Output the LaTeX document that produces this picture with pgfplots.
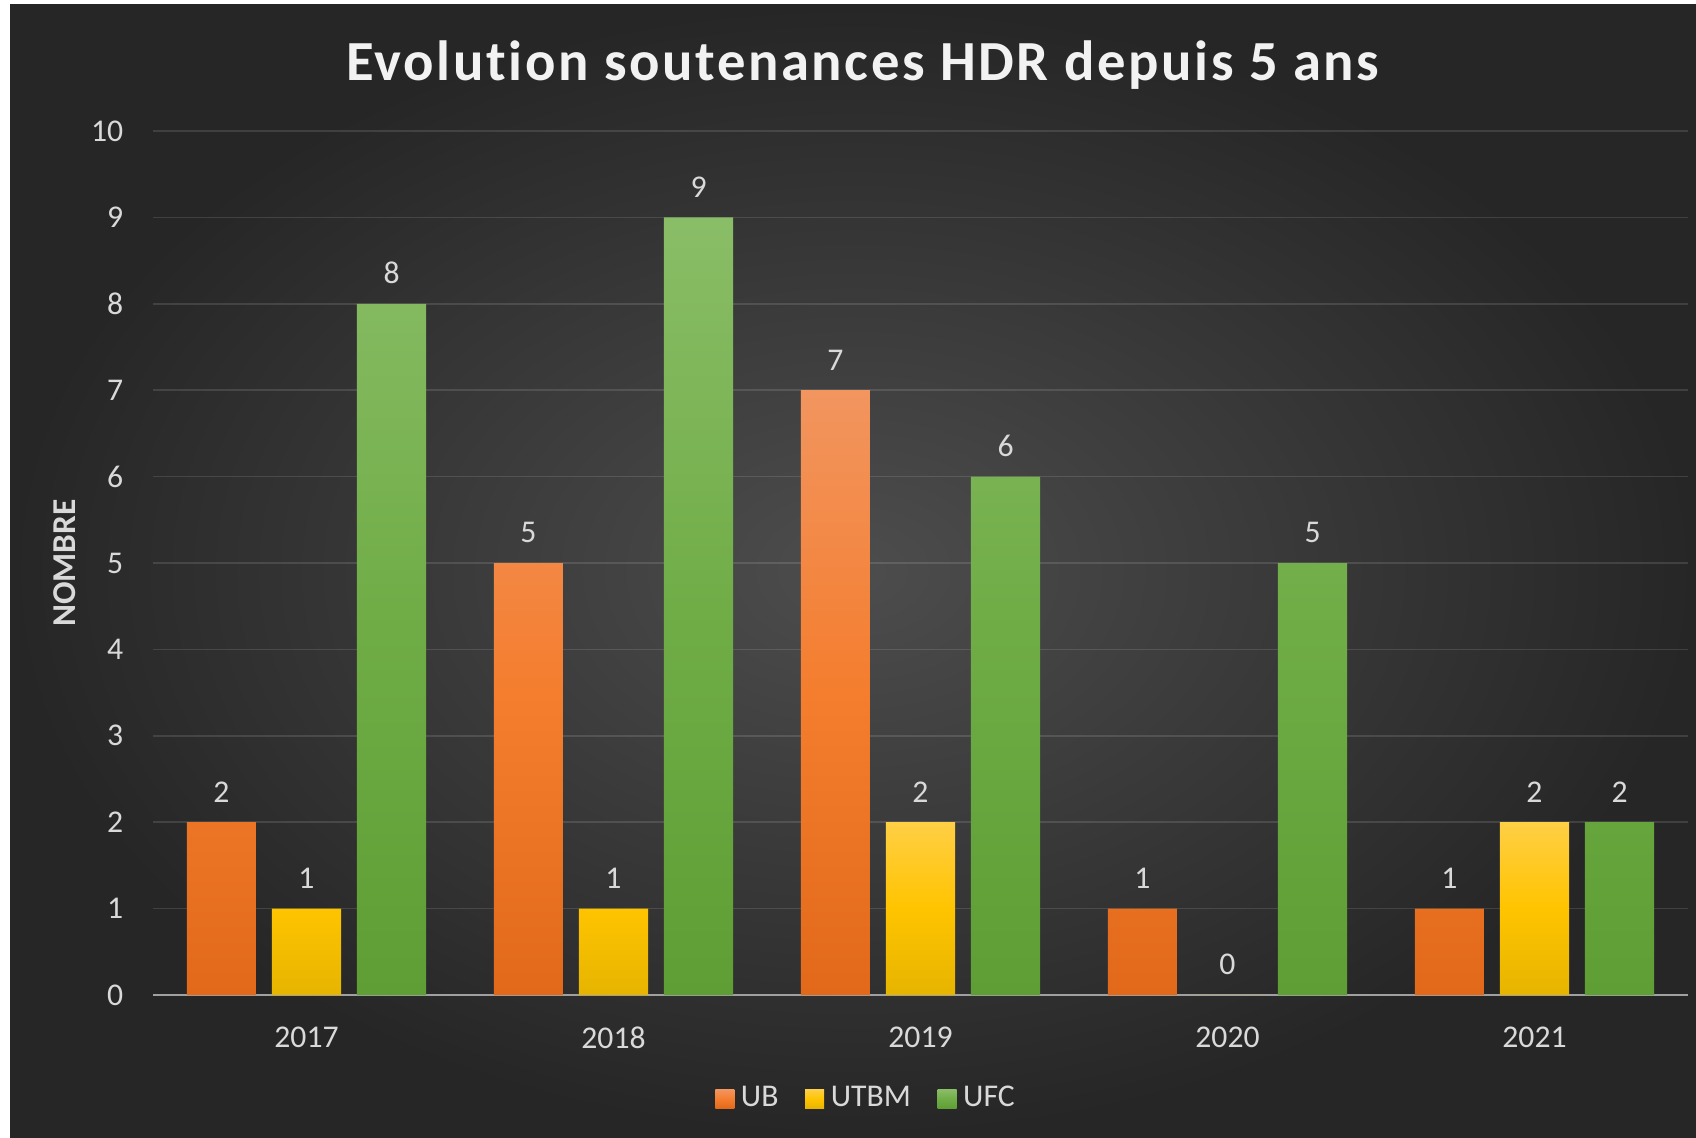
\documentclass[border=0pt]{standalone}
\usepackage{fontspec}
\setmainfont{Carlito}
\usepackage{pgfplots}
\pgfplotsset{compat=1.18}
\definecolor{bgin}{HTML}{4D4D4D}
\definecolor{bgout}{HTML}{262626}
\definecolor{txt}{HTML}{D9D9D9}
\definecolor{axisgray}{HTML}{A0A0A0}
\definecolor{ubtop}{HTML}{F2955F}
\definecolor{ubmid}{HTML}{F47D2E}
\definecolor{ubbot}{HTML}{E2691A}
\definecolor{uttop}{HTML}{FFCF45}
\definecolor{utmid}{HTML}{FFC400}
\definecolor{utbot}{HTML}{E6B400}
\definecolor{uftop}{HTML}{8ABD67}
\definecolor{ufmid}{HTML}{70AD47}
\definecolor{ufbot}{HTML}{5E9E34}
\begin{document}
\begin{tikzpicture}
\useasboundingbox (0,0) rectangle (508.8pt,341.1pt);
\fill[white] (0,0) rectangle (508.8pt,341.1pt);
\shade[inner color=bgin, outer color=bgout] (3pt,0) rectangle (508.8pt,339.6pt);
\node[anchor=base, text=white!95!black, font=\bfseries\fontsize{17}{20}\selectfont\addfontfeatures{LetterSpace=4.6,Ligatures=NoCommon}] at (258.8pt,317.1pt) {Evolution soutenances HDR depuis 5 ans};
\begin{axis}[
  at={(45.9pt,42.6pt)}, anchor=south west,
  scale only axis, width=460.5pt, height=259.2pt,
  xmin=-0.5, xmax=4.5, ymin=0, ymax=10,
  enlargelimits=false,
  ybar, bar width=0.225,
  xtick={0,1,2,3,4}, xticklabels={2017,2018,2019,2020,2021},
  ytick={0,1,...,10},
  axis x line*=bottom, axis y line*=left,
  x axis line style={draw=axisgray, line width=0.7pt, -},
  y axis line style={draw=none, -},
  major tick length=0pt,
  ymajorgrids,
  major grid style={draw=white, opacity=0.12, line width=0.5pt},
  tick label style={font=\fontsize{9.5}{11}\selectfont, text=txt},
  xticklabel style={yshift=-6pt},
  yticklabel style={xshift=-5.4pt},
  /pgf/number format/assume math mode=true,
  nodes near coords,
  every node near coord/.append style={font=\fontsize{9.5}{11}\selectfont, text=txt, yshift=2.5pt},
  ylabel={NOMBRE},
  ylabel style={at={(axis description cs:0,0.5)}, anchor=center, yshift=26.4pt, font=\bfseries\fontsize{10}{12}\selectfont, text=txt},
  legend columns=3,
  legend style={draw=none, fill=none, text=txt, font=\fontsize{9.5}{11}\selectfont,
    at={(0.466,0)}, anchor=center, yshift=-31.2pt,
    /tikz/every even column/.append style={column sep=6pt}},
  legend image code/.code={\path[#1, draw=none] (0pt,-2.85pt) rectangle (5.7pt,2.85pt);},
]
\addplot[bar shift=-0.277, draw=none, top color=ubtop, bottom color=ubbot, middle color=ubmid]
  coordinates {(0,2) (1,5) (2,7) (3,1) (4,1)};
\addplot[bar shift=0, draw=none, top color=uttop, bottom color=utbot, middle color=utmid]
  coordinates {(0,1) (1,1) (2,2) (3,0) (4,2)};
\addplot[bar shift=0.277, draw=none, top color=uftop, bottom color=ufbot, middle color=ufmid]
  coordinates {(0,8) (1,9) (2,6) (3,5) (4,2)};
\legend{UB,UTBM,UFC}
\end{axis}
\end{tikzpicture}
\end{document}
